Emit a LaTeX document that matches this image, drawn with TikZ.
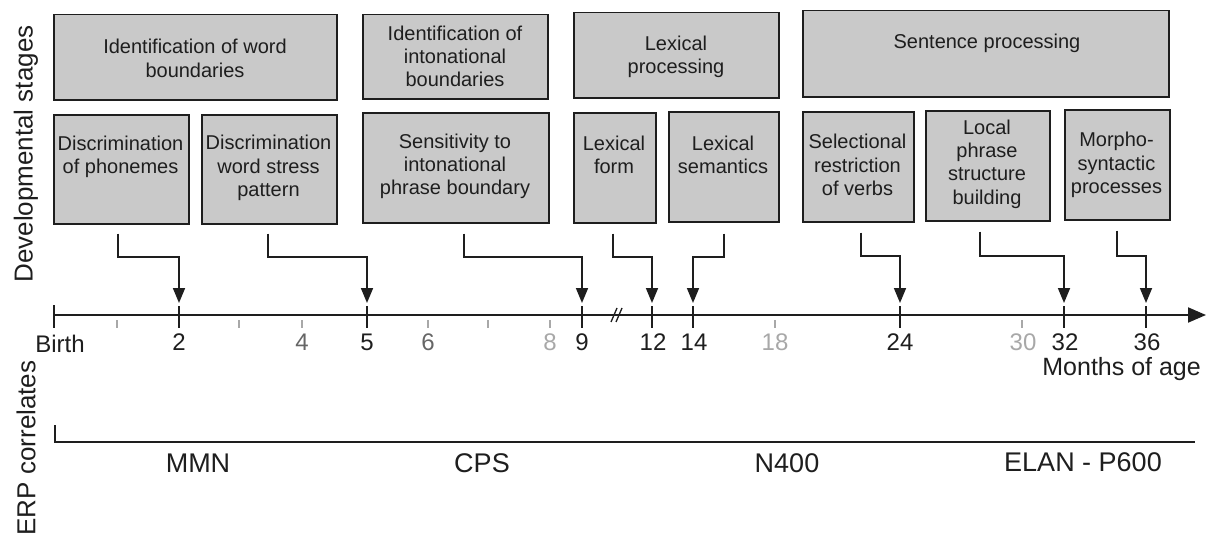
\documentclass[tikz,border=0pt]{standalone}
\usepackage{fontspec}
\setmainfont{Liberation Sans}
\usetikzlibrary{arrows.meta,calc}
\definecolor{boxfill}{HTML}{C9C9C9}
\definecolor{ink}{HTML}{1E1E1E}
\definecolor{midgray}{HTML}{666666}
\definecolor{lightgray}{HTML}{A8A8A8}
\begin{document}
\begin{tikzpicture}[x=1pt,y=-1pt,
  stagebox/.style={draw=ink, line width=1.5pt, fill=boxfill, rectangle, anchor=north west, inner sep=0pt},
  boxtext/.style={align=center, text=ink, font=\fontsize{20}{23.3}\selectfont, inner sep=0pt},
  conn/.style={draw=ink, line width=1.7pt, -{Triangle[width=12pt,length=15pt]}},
  axisline/.style={draw=ink, line width=2pt},
  majortick/.style={draw=ink, line width=2pt},
  minortick/.style={draw=lightgray, line width=1.4pt},
  num/.style={anchor=base, text=ink, font=\fontsize{24}{26}\selectfont, inner sep=0pt},
  erplabel/.style={anchor=base, text=ink, font=\fontsize{27}{30}\selectfont, inner sep=0pt},
  sidelabel/.style={rotate=90, text=ink, font=\fontsize{26}{28}\selectfont, inner sep=0pt}]
\useasboundingbox (0,0) rectangle (1210,535);

% side labels
\node[sidelabel] (devlab) at (26,154) {Developmental stages};
\node[sidelabel] (erplab) at (26,448) {ERP correlates};

% top row
\node[stagebox, minimum width=283pt, minimum height=85pt] (s1) at (53,14) {};
\node[stagebox, minimum width=185pt, minimum height=84pt] (s2) at (362,14) {};
\node[stagebox, minimum width=205pt, minimum height=85pt] (s3) at (573,12) {};
\node[stagebox, minimum width=366pt, minimum height=86pt] (s4) at (802,10) {};
\node[boxtext] (s1t) at (195,58.5) {Identification of word\\boundaries};
\node[boxtext] (s2t) at (455,56.5) {Identification of\\intonational\\boundaries};
\node[boxtext] (s3t) at (676,56.5) {Lexical\\processing};
\node[boxtext] (s4t) at (987,43) {Sentence processing};

% second row
\node[stagebox, minimum width=135pt, minimum height=109pt] (r1) at (53,114) {};
\node[stagebox, minimum width=135pt, minimum height=109pt] (r2) at (201,114) {};
\node[stagebox, minimum width=186pt, minimum height=110pt] (r3) at (362,112) {};
\node[stagebox, minimum width=82pt, minimum height=110pt] (r4) at (573,112) {};
\node[stagebox, minimum width=110pt, minimum height=110pt] (r5) at (668,111) {};
\node[stagebox, minimum width=111pt, minimum height=110pt] (r6) at (802,111) {};
\node[stagebox, minimum width=124pt, minimum height=110pt] (r7) at (925,110) {};
\node[stagebox, minimum width=105pt, minimum height=110pt] (r8) at (1064,109) {};
\node[boxtext] (r1t) at (120.5,156.5) {Discrimination\\of phonemes};
\node[boxtext] (r2t) at (268.5,168) {Discrimination\\word stress\\pattern};
\node[boxtext] (r3t) at (455,166.5) {Sensitivity to\\intonational\\phrase boundary};
\node[boxtext] (r4t) at (614,155) {Lexical\\form};
\node[boxtext] (r5t) at (723,155) {Lexical\\semantics};
\node[boxtext] (r6t) at (857.5,165) {Selectional\\restriction\\of verbs};
\node[boxtext] (r7t) at (987,164) {Local\\phrase\\structure\\building};
\node[boxtext] (r8t) at (1116.5,165) {Morpho-\\syntactic\\processes};

% time axis
\coordinate (ax0) at (54,315);
\coordinate (ax1) at (1206,315);
\draw[axisline, -{Triangle[width=15pt,length=18pt]}] (ax0) -- (ax1);
\draw[majortick] (54,305) -- (54,328);
\foreach \x in {117,239,302,428,488,550,775,1022}
  \draw[minortick] (\x,320) -- (\x,328);
\foreach \x in {179,367,582,652,693,900,1064,1146}
  \draw[majortick] (\x,306) -- (\x,328);
% break mark
\draw[draw=ink, line width=1.3pt] (611,322) -- (617,308) (616,322) -- (622,308);

% arrow targets
\coordinate (m2) at (179,303);
\coordinate (m5) at (367,303);
\coordinate (m9) at (582,303);
\coordinate (m12) at (652,303);
\coordinate (m14) at (693,303);
\coordinate (m24) at (900,303);
\coordinate (m32) at (1064,303);
\coordinate (m36) at (1146,303);

% axis labels
\node[num] (lb) at (60,352) {Birth};
\node[num] (l2) at (179,350) {2};
\node[num, text=midgray] (l4) at (302,350) {4};
\node[num] (l5) at (367,350) {5};
\node[num, text=midgray] (l6) at (428,350) {6};
\node[num, text=lightgray] (l8) at (550,350) {8};
\node[num] (l9) at (582,350) {9};
\node[num] (l12) at (653,350) {12};
\node[num] (l14) at (694,350) {14};
\node[num, text=lightgray] (l18) at (775,350) {18};
\node[num] (l24) at (900,350) {24};
\node[num, text=lightgray] (l30) at (1023,350) {30};
\node[num] (l32) at (1065,350) {32};
\node[num] (l36) at (1147,350) {36};
\node[anchor=east, text=ink, font=\fontsize{25}{27}\selectfont, inner sep=0pt] (months) at (1201,369) {Months of age};

% connectors
\draw[conn] ([xshift=-3.5pt,yshift=-9pt]r1.south) |- ([yshift=46pt]m2) -- (m2);
\draw[conn] ([xshift=-1.5pt,yshift=-9pt]r2.south) |- ([yshift=46pt]m5) -- (m5);
\draw[conn] ([xshift=8pt,yshift=-10pt]r3.south) |- ([yshift=46pt]m9) -- (m9);
\draw[conn] ([xshift=-2pt,yshift=-10pt]r4.south) |- ([yshift=46pt]m12) -- (m12);
\draw[conn] ([yshift=-11pt]r5.south) |- ([yshift=46pt]m14) -- (m14);
\draw[conn] ([xshift=2.5pt,yshift=-10pt]r6.south) |- ([yshift=47pt]m24) -- (m24);
\draw[conn] ([xshift=-8pt,yshift=-10pt]r7.south) |- ([yshift=47pt]m32) -- (m32);
\draw[conn] ([xshift=-0.5pt,yshift=-10pt]r8.south) |- ([yshift=47pt]m36) -- (m36);

% ERP line
\coordinate (e0) at (55,425);
\coordinate (e1) at (55,442);
\coordinate (e2) at (1195,442);
\draw[axisline] (e0) -- (e1) -- (e2);
\node[erplabel] (mmn) at (198,472) {MMN};
\node[erplabel] (cps) at (482,472) {CPS};
\node[erplabel] (n400) at (787,472) {N400};
\node[erplabel] (elan) at (1083,471) {ELAN - P600};
\end{tikzpicture}
\end{document}
